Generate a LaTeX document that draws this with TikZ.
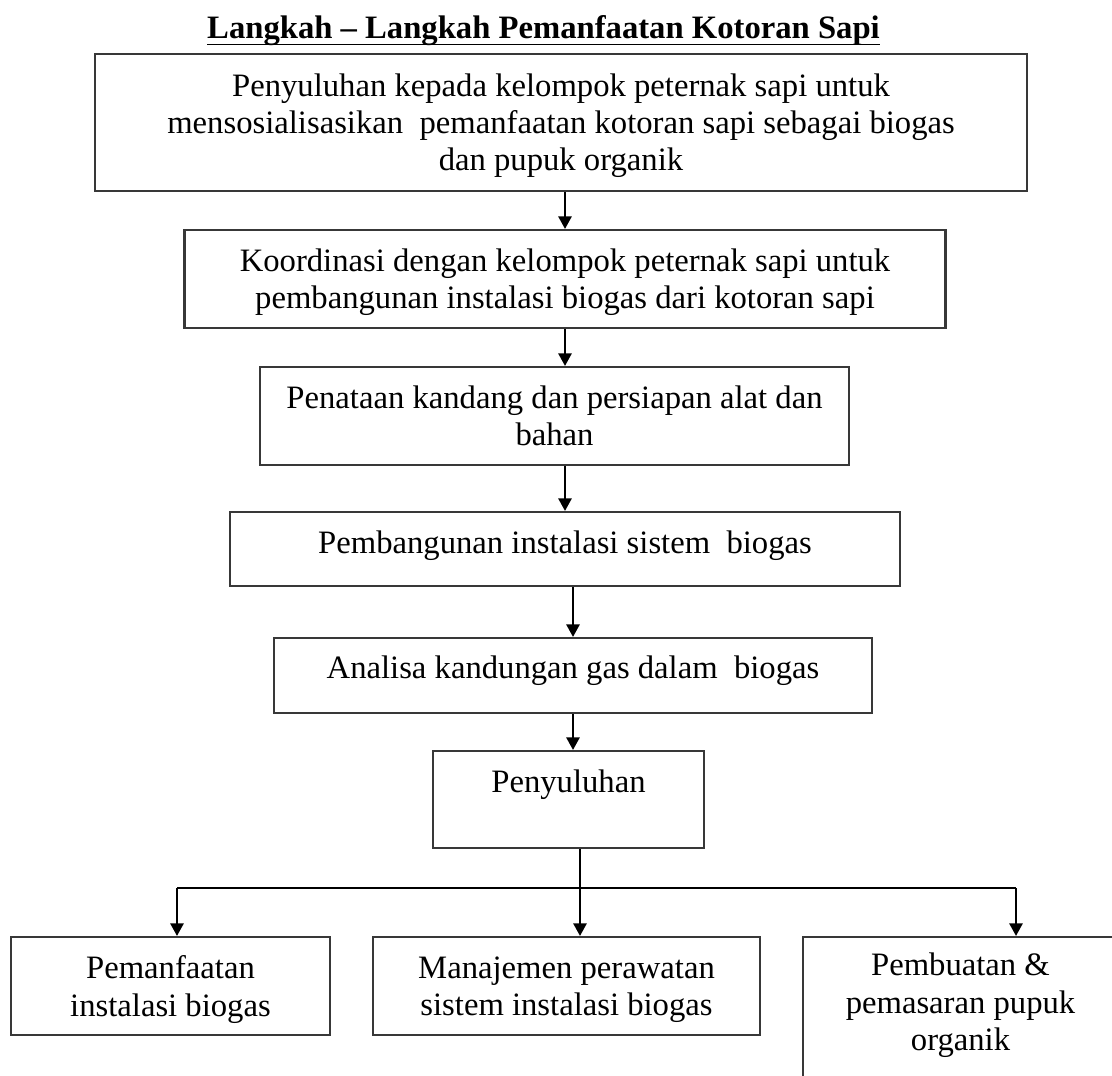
\documentclass[tikz,border=0pt]{standalone}
\usepackage{fontspec}
\setmainfont{Liberation Serif}
\usetikzlibrary{arrows.meta}
\newcommand{\thickul}[1]{\setbox0=\hbox{#1}\rlap{\copy0}\rule[-5.6pt]{\wd0}{1.3pt}}

\begin{document}
\begin{tikzpicture}[x=0.75pt,y=-0.75pt,
    box/.style={draw=black!78,line width=1.6pt,align=center,inner sep=0pt,
      text depth=0pt,font=\fontsize{24.5}{27.8}\selectfont},
    size/.style 2 args={minimum width=#1*0.75pt,minimum height=#2*0.75pt}]
  \useasboundingbox (0,0) rectangle (1112,1075);
  \clip (0,0) rectangle (1112,1075);
  \draw
    (543.5,38) node[anchor=base,font=\bfseries\fontsize{24.5}{28}\selectfont] (title)
      {\thickul{Langkah – Langkah Pemanfaatan Kotoran Sapi}}
    (561,122.5) node[box,size={932}{137}] (s1)
      {Penyuluhan kepada kelompok peternak sapi untuk\\
       mensosialisasikan\ \ pemanfaatan kotoran sapi sebagai biogas\\
       dan pupuk organik}
    (565,279) node[box,size={761}{98}] (s2)
      {Koordinasi dengan kelompok peternak sapi untuk\\
       pembangunan instalasi biogas dari kotoran sapi}
    (554.5,416) node[box,size={589}{98}] (s3)
      {Penataan kandang dan persiapan alat dan\\ bahan}
    (565,549) node[box,size={670}{74},text depth=10pt] (s4)
      {Pembangunan instalasi sistem\ \ biogas}
    (573,675.5) node[box,size={598}{75},text depth=12pt] (s5)
      {Analisa kandungan gas dalam\ \ biogas}
    (568.5,799.5) node[box,size={271}{97},text depth=27pt] (s6)
      {Penyuluhan}
    (170.5,986) node[box,size={319}{98}] (s7)
      {Pemanfaatan\\ instalasi biogas}
    (566.5,986) node[box,size={387}{98}] (s8)
      {Manajemen perawatan\\ sistem instalasi biogas}
    (960.5,1027) node[box,size={315}{180},text depth=38pt] (s9)
      {Pembuatan \&\\ pemasaran pupuk\\ organik};
  \coordinate (fork) at (580,888);
  \coordinate (forkL) at (177,888);
  \coordinate (forkR) at (1016,888);
  \begin{scope}[line width=1.5pt,-{Triangle[length=9.5pt,width=10pt]}]
    \draw (s1.south -| s2.north) to (s2.north);
    \draw (s2.south) to (s2.south |- s3.north);
    \draw (s3.south -| s4.north) to (s4.north);
    \draw (s4.south -| s5.north) to (s5.north);
    \draw (s5.south) to (s5.south |- s6.north);
    \draw (forkL) to (forkL |- s7.north);
    \draw (fork) to (fork |- s8.north);
    \draw (forkR) to (forkR |- s9.north);
  \end{scope}
  \draw[line width=1.5pt] (s6.south -| fork) -- (fork);
  \draw[line width=1.5pt] (forkL) -- (forkR);
\end{tikzpicture}
\end{document}
